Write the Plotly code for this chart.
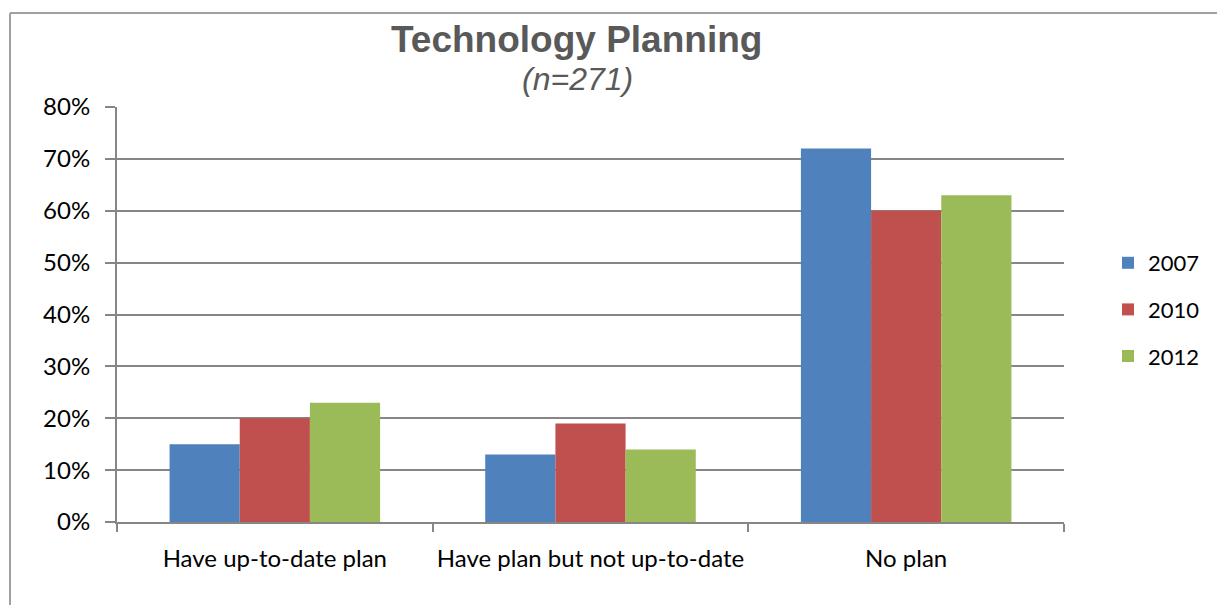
import plotly.graph_objects as go

categories = ["Have up-to-date plan", "Have plan but not up-to-date", "No plan"]
years = ["2007", "2010", "2012"]
values_2007 = [0.15, 0.13, 0.72]
values_2010 = [0.20, 0.19, 0.60]
values_2012 = [0.23, 0.14, 0.63]
colors = ["#4F81BD", "#C0504D", "#9BBB59"]

series = [values_2007, values_2010, values_2012]

fig = go.Figure()
for name, vals, col in zip(years, series, colors):
    fig.add_trace(go.Bar(x=categories, y=vals, name=name, marker_color=col,
                         marker_line_width=0, legendgroup=name))

# page body has an 8px margin, so the figure is offset by (8, 8) in the window
OFF = 8
W, H = 1225 - OFF, 605 - OFF
L, T = 117 - OFF, 107 - OFF
pw, ph = 1064 - 117, 522 - 107
R, B = W - L - pw, H - T - ph

def px_to_paper_x(px):
    return (px - OFF - L) / pw

def px_to_paper_y(py):
    return (T + ph - (py - OFF)) / ph

axis_gray = "#868686"
font_fam = "Lato, 'Open Sans', Arial, sans-serif"

fig.update_layout(
    width=W, height=H,
    margin=dict(l=L, r=R, t=T, b=B, autoexpand=False),
    paper_bgcolor="white", plot_bgcolor="white",
    barmode="group", bargap=0.333, bargroupgap=0,
    showlegend=True,
    legend=dict(x=px_to_paper_x(1108), y=px_to_paper_y(242), xanchor="left", yanchor="top",
                font=dict(family=font_fam, size=22, color="#000000"),
                tracegroupgap=15, itemwidth=30),
    font=dict(family=font_fam, size=24, color="#000000"),
    xaxis=dict(showline=True, linecolor=axis_gray, linewidth=2, ticks="outside",
               tickson="boundaries", ticklen=8, tickcolor=axis_gray, tickwidth=2,
               showgrid=False, ticklabelstandoff=14, tickangle=0, automargin=False,
               tickfont=dict(family=font_fam, size=24, color="#000000")),
    yaxis=dict(range=[0, 0.8], dtick=0.1, tickformat=".0%", showline=True,
               linecolor=axis_gray, linewidth=2, ticks="outside", ticklen=10,
               tickcolor=axis_gray, tickwidth=2, showgrid=True, gridcolor=axis_gray,
               gridwidth=2, zeroline=False, ticklabelstandoff=10, automargin=False,
               tickfont=dict(family=font_fam, size=24, color="#000000")),
)

fig.add_annotation(text="<b>Technology Planning</b>", xref="paper", yref="paper",
                   x=px_to_paper_x(576), y=px_to_paper_y(40), xanchor="center", yanchor="middle",
                   showarrow=False, font=dict(family="Arial, 'Liberation Sans', sans-serif", size=37, color="#595959"))
fig.add_annotation(text="<i>(n=271)</i>", xref="paper", yref="paper",
                   x=px_to_paper_x(577), y=px_to_paper_y(79), xanchor="center", yanchor="middle",
                   showarrow=False, font=dict(family="Arial, 'Liberation Sans', sans-serif", size=32, color="#595959"))

# chart-area border: only the top and left edges are visible in the reference
border = dict(color="#A0A0A0", width=2)
fig.add_shape(type="line", xref="paper", yref="paper", layer="below",
              x0=px_to_paper_x(10), x1=px_to_paper_x(1300),
              y0=px_to_paper_y(13), y1=px_to_paper_y(13), line=border)
fig.add_shape(type="line", xref="paper", yref="paper", layer="below",
              x0=px_to_paper_x(10), x1=px_to_paper_x(10),
              y0=px_to_paper_y(13), y1=px_to_paper_y(700), line=border)

fig.write_html("out.html")
